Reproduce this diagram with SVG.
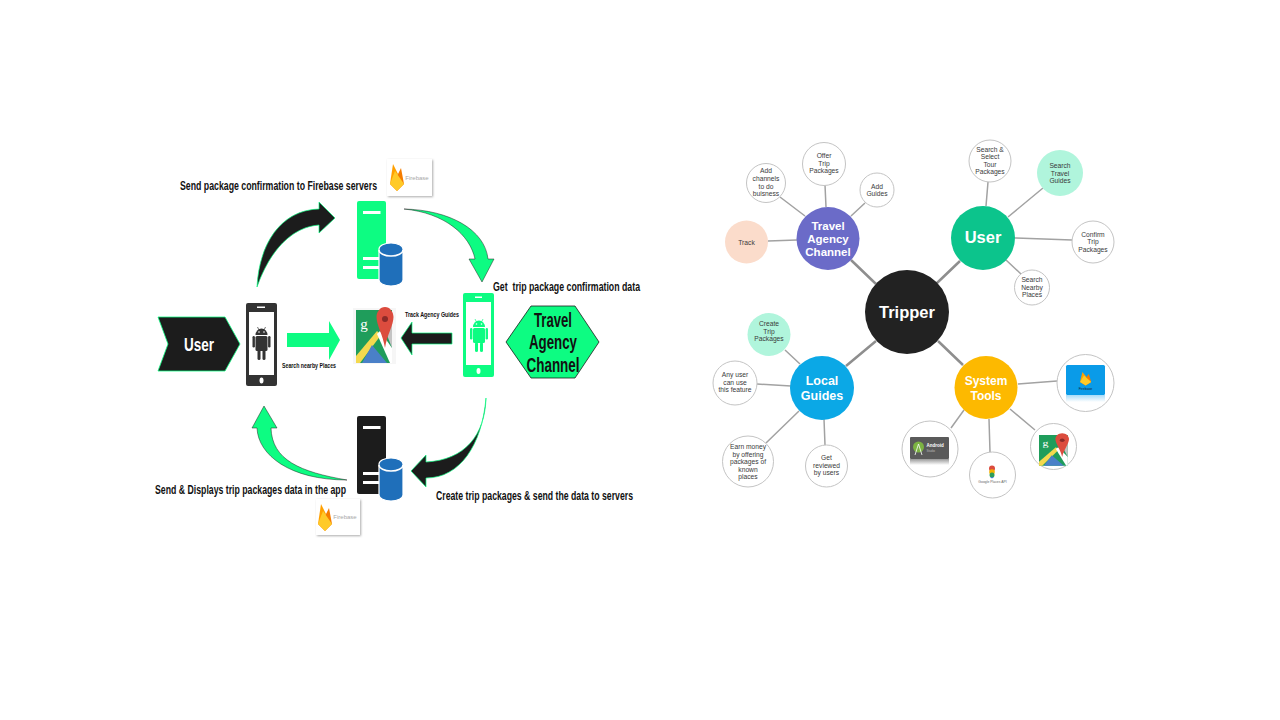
<svg xmlns="http://www.w3.org/2000/svg" xmlns:xlink="http://www.w3.org/1999/xlink" width="1280" height="720" viewBox="0 0 1280 720">
<style>
text{font-family:"Liberation Sans",Arial,sans-serif}
.lb{font-weight:700;fill:#111;font-size:12px}
.sm{font-weight:700;fill:#111;font-size:7px}
.hx{font-weight:700;fill:#111;font-size:20px;text-anchor:middle}
.leaf{fill:#fff;stroke:#c4c4c4;stroke-width:1}
.lt{font-size:6.700px;fill:#3a3a3a;text-anchor:middle}
.hub{font-weight:700;fill:#fff;text-anchor:middle}
.sp{stroke:#a2a2a2;stroke-width:1.500;fill:none}
.tr{stroke:#8e8e8e;stroke-width:2.500;fill:none}
.bk{fill:#1c1c1c;stroke:#0dfc82;stroke-width:.7}
.gr{fill:#0dfc82;stroke:#222;stroke-width:.5}
.fbt{font-size:6px;fill:#a8a8a8;text-anchor:middle}
</style>
<defs>
<linearGradient id="fadeG" x1="0" y1="0" x2="0" y2="1"><stop offset="0" stop-color="#999"/><stop offset="1" stop-color="#fff"/></linearGradient>
<linearGradient id="fadeB" x1="0" y1="0" x2="0" y2="1"><stop offset="0" stop-color="#a8dcf8"/><stop offset="1" stop-color="#fff"/></linearGradient>
<filter id="sh" x="-10%" y="-10%" width="125%" height="125%"><feDropShadow dx="1" dy="1" stdDeviation="0.8" flood-color="#888" flood-opacity=".7"/></filter>
<g id="droid">
<path d="M3,10 A6,6.500 0 0 1 15,10 Z"/>
<path d="M5,2 L6.500,5 M13,2 L11.500,5" stroke="currentColor" stroke-width=".7"/>
<circle cx="6.500" cy="7" r=".8" fill="#fff"/><circle cx="11.500" cy="7" r=".8" fill="#fff"/>
<rect x="3" y="11" width="12" height="15" rx="1.500"/>
<rect x="0" y="11" width="2.400" height="11.500" rx="1.200"/>
<rect x="15.600" y="11" width="2.400" height="11.500" rx="1.200"/>
<rect x="5" y="25" width="3" height="10" rx="1.500"/>
<rect x="10" y="25" width="3" height="10" rx="1.500"/>
</g>
<g id="server">
<rect x="0" y="0" width="29" height="78" rx="2"/>
<rect x="6" y="10" width="17.500" height="3" fill="#fff"/>
<rect x="6" y="56" width="17.500" height="3" fill="#fff"/>
<rect x="6" y="65" width="17.500" height="3" fill="#fff"/>
<path d="M22,48 A12,6 0 0 1 46,48 L46,79 A12,6 0 0 1 22,79 Z" fill="#1f6fba" stroke="#fff" stroke-width="1.200"/>
<path d="M22,49 A12,6 0 0 0 46,49" fill="none" stroke="#fff" stroke-width="1.500"/>
</g>
<g id="flame">
<path d="M0,20 L3,0 L8,10 Z" fill="#ffa000"/>
<path d="M8,10 L11,4 L14,20 L7,27 L0,20 Z" fill="#f57c00"/>
<path d="M0,20 L5,7 L14,20 L7,27 Z" fill="#ffca28"/>
</g>
<g id="maps">
<rect x="0" y="0" width="36" height="53" fill="#1f9d5b"/>
<path d="M24,7 L36,7 L36,38 Z" fill="#c4c4c4"/>
<path d="M0,53 L0,46 L21,21 L25,25 L4,53 Z" fill="#f4d94e"/>
<path d="M6,53 L16,35 L31,53 Z" fill="#4a80c8"/>
<path d="M21,24 L24,21 L36,38 L36,53 L34,53 Z" fill="#fff"/>
<path d="M29,-3 C24,-3 20.500,2 20.500,7 C20.500,15 27,25 29,38 C31,25 37.500,15 37.500,7 C37.500,2 34,-3 29,-3 Z" fill="#dc4c3e"/>
<circle cx="29" cy="9" r="3" fill="#8c2a28"/>
<text x="8" y="19" font-size="15" fill="#fff" text-anchor="middle" style="font-family:'Liberation Serif',serif">g</text>
</g>
</defs>

<g id="connectors">
<path class="bk" d="M257,287 C259,245 280,210 319,209 L319,202 L335,218 L319,233 L319,225 C292,227 270,250 257,287 Z"/>
<path class="gr" d="M404,209 C450,210 485,230 488,259 L494,259 L482,282 L469,259 L475,259 C470,235 445,213 404,209 Z"/>
<path class="bk" d="M486,398 C485,435 465,460 426,462 L426,455 L411,471 L426,487 L426,478 C460,478 482,445 486,398 Z"/>
<path class="gr" d="M347,480 C300,472 272,460 271,428 L277,428 L264,406 L252,428 L257,428 C258,455 290,480 347,480 Z"/>
<path d="M287,333 L329,333 L329,321 L340,340 L329,360 L329,347 L287,347 Z" fill="#0dfc82"/>
<path class="bk" d="M452,333 L412,333 L412,322 L401,338 L412,355 L412,344 L452,344 Z"/>
<g id="spokes">
<path class="sp" d="M780,197L805,216M825,185L826,207M865,203L851,216M768,241L797,240"/>
<path class="sp" d="M988,182L986,206M1043,188L1008,217M1015,238L1072,240M1006,260L1021,274"/>
<path class="sp" d="M785,350L800,364M757,384L791,386M766,443L799,411M824,419L825,445"/>
<path class="sp" d="M1018,384L1057,381M1010,409L1035,430M989,419L990,452M964,410L951,428"/>
<path class="tr" d="M851,260L876,284M960,261L937,283M846,366L876,341M963,365L938,341"/>
</g>
</g>

<g id="user-node">
<path d="M158,317 L225,317 L240,344 L225,371 L158,371 L168,344 Z" fill="#1c1c1c" stroke="#0dfc82" stroke-width=".8"/>
<text x="199" y="351" font-size="19" font-weight="700" fill="#fff" text-anchor="middle" textLength="30" lengthAdjust="spacingAndGlyphs">User</text>
</g>
<g id="user-phone">
<rect x="246" y="303" width="31" height="83" rx="2" fill="#333"/>
<rect x="249" y="312" width="25" height="63" fill="#fff"/>
<rect x="257" y="306.500" width="8" height="1.500" fill="#fff"/>
<ellipse cx="261.500" cy="380.500" rx="2" ry="3" fill="#fff"/>
<use href="#droid" x="252.500" y="325" fill="#333" color="#333"/>
</g>
<g id="agency-phone">
<rect x="463" y="293" width="31" height="84" rx="2" fill="#0dfc82"/>
<rect x="466" y="302" width="25" height="63" fill="#fff"/>
<rect x="475" y="296.500" width="7" height="1.500" fill="#fff"/>
<ellipse cx="478.500" cy="371" rx="2" ry="3" fill="#fff"/>
<use href="#droid" x="470" y="317" fill="#0dfc82" color="#0dfc82"/>
</g>
<g id="travel-agency-channel">
<path d="M506,342 L531,306 L575,306 L599,342 L575,378 L531,378 Z" fill="#0dfc82" stroke="#1c1c1c" stroke-width=".8"/>
<text class="hx" x="553" y="327" textLength="38" lengthAdjust="spacingAndGlyphs">Travel</text>
<text class="hx" x="553" y="349" textLength="48" lengthAdjust="spacingAndGlyphs">Agency</text>
<text class="hx" x="553" y="372" textLength="53" lengthAdjust="spacingAndGlyphs">Channel</text>
</g>
<g id="maps-node">
<rect x="353" y="308" width="43" height="56" fill="#f6f6f6"/>
<use href="#maps" x="356" y="310"/>
</g>
<g id="server-green"><use href="#server" x="357" y="201" fill="#0dfc82"/></g>
<g id="server-black"><use href="#server" x="357" y="416" fill="#1c1c1c"/></g>
<g id="firebase-top">
<rect x="387" y="159" width="45" height="37" fill="#fff" filter="url(#sh)"/>
<use href="#flame" x="390" y="164"/>
<text class="fbt" x="417" y="180">Firebase</text>
</g>
<g id="firebase-bottom">
<rect x="316" y="499" width="44" height="36" fill="#fff" filter="url(#sh)"/>
<use href="#flame" x="318" y="504"/>
<text class="fbt" x="345" y="519">Firebase</text>
</g>

<g id="labels">
<text class="lb" x="180" y="190" textLength="197" lengthAdjust="spacingAndGlyphs">Send package confirmation to Firebase servers</text>
<text class="lb" x="493" y="291" textLength="147" lengthAdjust="spacingAndGlyphs" xml:space="preserve">Get  trip package confirmation data</text>
<text class="sm" x="405" y="317" textLength="54" lengthAdjust="spacingAndGlyphs">Track Agency Guides</text>
<text class="sm" x="282" y="368" textLength="54" lengthAdjust="spacingAndGlyphs">Search nearby Places</text>
<text class="lb" x="436" y="500" textLength="197" lengthAdjust="spacingAndGlyphs">Create trip packages &amp; send the data to servers</text>
<text class="lb" x="155" y="494" textLength="191" lengthAdjust="spacingAndGlyphs">Send &amp; Displays trip packages data in the app</text>
</g>

<g id="tripper"><circle cx="907" cy="312" r="42" fill="#222"/><text class="hub" x="907" y="318" font-size="16.500">Tripper</text></g>
<g id="hub-agency"><circle cx="828" cy="238.500" r="31.500" fill="#6b6bc8"/><text class="hub" font-size="11.500" x="828" y="230">Travel</text><text class="hub" font-size="11.500" x="828" y="243">Agency</text><text class="hub" font-size="11.500" x="828" y="256">Channel</text></g>
<g id="hub-user"><circle cx="983" cy="238" r="32" fill="#0cc48c"/><text class="hub" x="983" y="243" font-size="16.500">User</text></g>
<g id="hub-guides"><circle cx="822" cy="388" r="32" fill="#0ba8e6"/><text class="hub" font-size="12.500" x="822" y="385">Local</text><text class="hub" font-size="12.500" x="822" y="400">Guides</text></g>
<g id="hub-tools"><circle cx="986" cy="387.500" r="31.500" fill="#fdb900"/><text class="hub" font-size="12" x="986" y="385">System</text><text class="hub" font-size="12" x="986" y="400">Tools</text></g>

<g id="n-add-channels"><circle class="leaf" cx="766" cy="183" r="19.500"/><text class="lt" x="766" y="173">Add</text><text class="lt" x="766" y="181">channels</text><text class="lt" x="766" y="188.500">to do</text><text class="lt" x="766" y="196">buisness</text></g>
<g id="n-offer"><circle class="leaf" cx="824" cy="164" r="21.500"/><text class="lt" x="824" y="158">Offer</text><text class="lt" x="824" y="165.500">Trip</text><text class="lt" x="824" y="173">Packages</text></g>
<g id="n-add-guides"><circle class="leaf" cx="877" cy="190" r="17"/><text class="lt" x="877" y="188.500">Add</text><text class="lt" x="877" y="196">Guides</text></g>
<g id="n-track"><circle cx="746.500" cy="242" r="21.500" fill="#fbdccb"/><text class="lt" x="746.500" y="244.500">Track</text></g>
<g id="n-search-select"><circle class="leaf" cx="990" cy="161" r="21"/><text class="lt" x="990" y="151.500">Search &amp;</text><text class="lt" x="990" y="159">Select</text><text class="lt" x="990" y="166.500">Tour</text><text class="lt" x="990" y="174">Packages</text></g>
<g id="n-search-guides"><circle cx="1060" cy="173" r="23" fill="#b0f5dc"/><text class="lt" x="1060" y="168">Search</text><text class="lt" x="1060" y="175.500">Travel</text><text class="lt" x="1060" y="183">Guides</text></g>
<g id="n-confirm"><circle class="leaf" cx="1093" cy="242" r="21"/><text class="lt" x="1093" y="236.500">Confirm</text><text class="lt" x="1093" y="244">Trip</text><text class="lt" x="1093" y="251.500">Packages</text></g>
<g id="n-nearby"><circle class="leaf" cx="1032" cy="287.500" r="17.500"/><text class="lt" x="1032" y="282">Search</text><text class="lt" x="1032" y="289.500">Nearby</text><text class="lt" x="1032" y="297">Places</text></g>
<g id="n-create"><circle cx="769" cy="334.500" r="21.500" fill="#b0f5dc"/><text class="lt" x="769" y="326">Create</text><text class="lt" x="769" y="333.500">Trip</text><text class="lt" x="769" y="341">Packages</text></g>
<g id="n-any"><circle class="leaf" cx="735" cy="383" r="22"/><text class="lt" x="735" y="377">Any user</text><text class="lt" x="735" y="385">can use</text><text class="lt" x="735" y="392">this feature</text></g>
<g id="n-earn"><circle class="leaf" cx="748" cy="461.500" r="25.500"/><text class="lt" x="748" y="449">Earn money</text><text class="lt" x="748" y="456.500">by offering</text><text class="lt" x="748" y="464">packages of</text><text class="lt" x="748" y="471.500">known</text><text class="lt" x="748" y="479">places</text></g>
<g id="n-reviewed"><circle class="leaf" cx="826.500" cy="466" r="21"/><text class="lt" x="826.500" y="460">Get</text><text class="lt" x="826.500" y="468">reviewed</text><text class="lt" x="826.500" y="475">by users</text></g>

<g id="n-firebase"><circle class="leaf" cx="1085.500" cy="383" r="28.500"/>
<rect x="1066" y="395" width="39" height="7" fill="url(#fadeB)"/>
<rect x="1066" y="365" width="39" height="30" rx="1.500" fill="#0a9be8"/>
<use href="#flame" transform="translate(1080,372) scale(.8,.5)"/>
<text x="1085.500" y="390" font-size="3.500" fill="#123" text-anchor="middle">Firebase</text></g>
<g id="n-maps"><circle class="leaf" cx="1053.500" cy="446.500" r="23"/><use href="#maps" transform="translate(1039,435) scale(.8,.58)"/></g>
<g id="n-places"><circle class="leaf" cx="992.500" cy="475" r="23"/>
<circle cx="992" cy="468.500" r="3" fill="#dc4c3e"/><circle cx="992" cy="472" r="2.800" fill="#f4b400"/><circle cx="992" cy="475" r="2.500" fill="#2f9e58"/><path d="M990,477 L994,477 L992,478.500 Z" fill="#3f7fd0"/>
<text x="992.500" y="483" font-size="3.400" fill="#666" text-anchor="middle">Google Places API</text></g>
<g id="n-android"><circle class="leaf" cx="930" cy="449" r="28"/>
<rect x="910" y="459" width="39" height="6" fill="url(#fadeG)"/>
<rect x="910" y="437" width="39" height="22" rx="1" fill="#5a5a5a"/>
<circle cx="918.500" cy="447" r="5.500" fill="#7cb342"/>
<path d="M915,455 L918.500,444 L922,455" fill="none" stroke="#fff" stroke-width=".8"/>
<text x="926.500" y="447" font-size="4.500" font-weight="700" fill="#fff">Android</text>
<text x="926.500" y="452" font-size="3" fill="#bbb">Studio</text></g>
</svg>
